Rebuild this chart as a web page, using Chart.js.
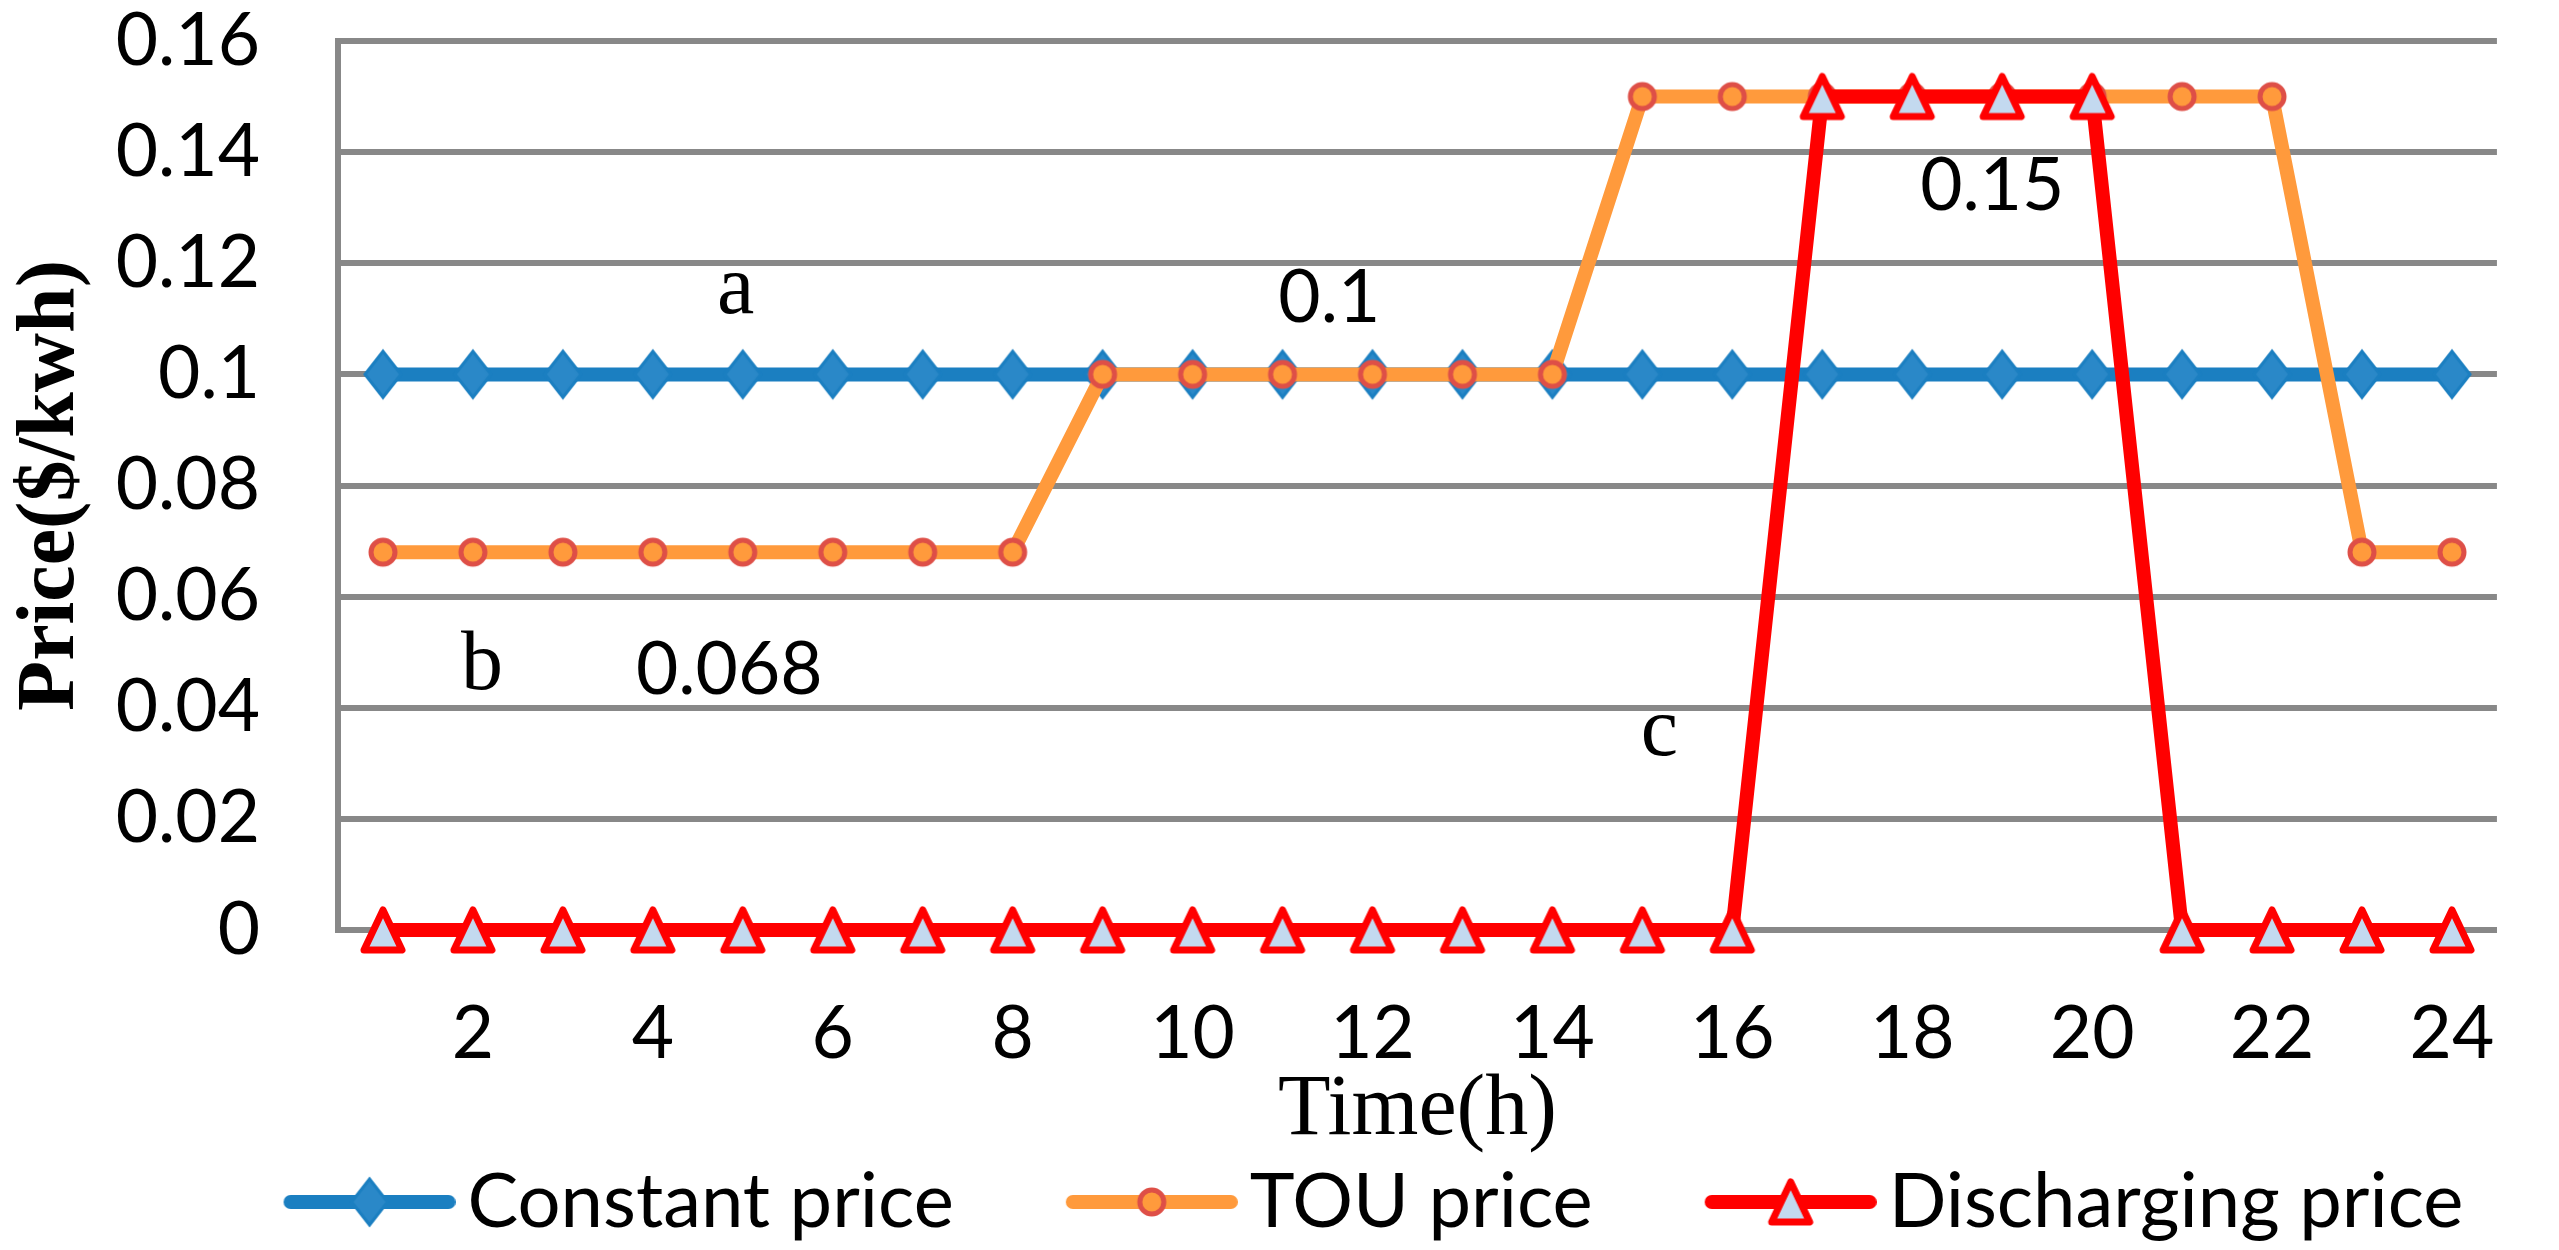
<!DOCTYPE html>
<html>
<head>
<meta charset="utf-8">
<script src="https://cdn.jsdelivr.net/npm/chart.js@4/dist/chart.umd.min.js"></script>
<style>
  html, body { margin: 0; padding: 0; background: #fff; }
  #wrap { width: 2559px; height: 1250px; }
</style>
</head>
<body>
<div id="wrap"><canvas id="chart" width="2559" height="1250"></canvas></div>
<script>
// hours of the day and the three price curves ($/kWh)
const hours = [1, 2, 3, 4, 5, 6, 7, 8, 9, 10, 11, 12, 13, 14, 15, 16, 17, 18, 19, 20, 21, 22, 23, 24];
const constantPrice = [0.1, 0.1, 0.1, 0.1, 0.1, 0.1, 0.1, 0.1, 0.1, 0.1, 0.1, 0.1,
                       0.1, 0.1, 0.1, 0.1, 0.1, 0.1, 0.1, 0.1, 0.1, 0.1, 0.1, 0.1];
const touPrice = [0.068, 0.068, 0.068, 0.068, 0.068, 0.068, 0.068, 0.068, 0.1, 0.1, 0.1, 0.1,
                  0.1, 0.1, 0.15, 0.15, 0.15, 0.15, 0.15, 0.15, 0.15, 0.15, 0.068, 0.068];
const dischargingPrice = [0, 0, 0, 0, 0, 0, 0, 0, 0, 0, 0, 0,
                          0, 0, 0, 0, 0.15, 0.15, 0.15, 0.15, 0, 0, 0, 0];
const seriesNames = ['Constant price', 'TOU price', 'Discharging price'];
const xTickLabels = [2, 4, 6, 8, 10, 12, 14, 16, 18, 20, 22, 24];

// text notes written inside the plot (hour, price)
const noteText = ['a', '0.1', '0.15', 'b', '0.068', 'c'];
const noteHour = [4.92, 11.52, 18.89, 2.1, 4.85, 15.19];
const notePrice = [0.111, 0.1094, 0.1296, 0.0434, 0.0425, 0.0315];

const BLUE = '#1B7FC1';
const ORANGE = '#FF9A3C';
const RED = '#FF0000';
const LEGEND_FONT = 76;

function makeCanvas(w, h) {
  const c = document.createElement('canvas');
  c.width = w;
  c.height = h;
  return c;
}

// marker shapes
function drawDiamond(ctx, cx, cy) {
  ctx.beginPath();
  ctx.moveTo(cx, cy - 23);
  ctx.lineTo(cx + 18, cy);
  ctx.lineTo(cx, cy + 23);
  ctx.lineTo(cx - 18, cy);
  ctx.closePath();
  ctx.fillStyle = '#2A88C8';
  ctx.fill();
  ctx.lineWidth = 3;
  ctx.strokeStyle = BLUE;
  ctx.stroke();
}

function drawCircle(ctx, cx, cy) {
  ctx.beginPath();
  ctx.arc(cx, cy, 12, 0, Math.PI * 2);
  ctx.fillStyle = ORANGE;
  ctx.fill();
  ctx.lineWidth = 5;
  ctx.strokeStyle = '#DE4F47';
  ctx.stroke();
}

function drawTriangle(ctx, cx, cy) {
  ctx.beginPath();
  ctx.moveTo(cx, cy - 20);
  ctx.lineTo(cx + 19, cy + 20);
  ctx.lineTo(cx - 19, cy + 20);
  ctx.closePath();
  ctx.fillStyle = '#C3D9EF';
  ctx.fill();
  ctx.lineWidth = 7;
  ctx.lineJoin = 'round';
  ctx.strokeStyle = RED;
  ctx.stroke();
}

const markerFns = [drawDiamond, drawCircle, drawTriangle];
const lineColors = [BLUE, ORANGE, RED];

function markerIcon(i) {
  const c = makeCanvas(56, 56);
  markerFns[i](c.getContext('2d'), 28, 28);
  return c;
}

// legend swatch: line with the marker in the middle, right-aligned in the image
function legendIcon(i) {
  const w = 300, h = 56;
  const c = makeCanvas(w, h);
  const ctx = c.getContext('2d');
  ctx.strokeStyle = lineColors[i];
  ctx.lineWidth = 14;
  ctx.lineCap = 'round';
  ctx.beginPath();
  ctx.moveTo(w - 172 + 7, h / 2);
  ctx.lineTo(w - 7, h / 2);
  ctx.stroke();
  markerFns[i](ctx, w - 86, h / 2);
  return c;
}

const markers = [0, 1, 2].map(markerIcon);
const legendIcons = [0, 1, 2].map(legendIcon);

const notesPlugin = {
  id: 'notes',
  afterDatasetsDraw(chart) {
    const { ctx, scales: { x, y } } = chart;
    ctx.save();
    ctx.fillStyle = '#000';
    ctx.textAlign = 'center';
    ctx.textBaseline = 'alphabetic';
    noteText.forEach((t, i) => {
      ctx.font = /^[a-z]$/.test(t) ? '84px "Liberation Serif"' : '73px Lato';
      ctx.fillText(t, x.getPixelForValue(noteHour[i] - 1), y.getPixelForValue(notePrice[i]));
    });
    ctx.restore();
  }
};

// legend is centred on the canvas; the original sits a little to the right
const legendShift = {
  id: 'legendShift',
  afterLayout(chart) {
    chart.legend.left += 48;
    chart.legend.right += 48;
  }
};

function draw() {
  const seriesData = [constantPrice, touPrice, dischargingPrice];
  const datasets = seriesData.map((d, i) => ({
    label: seriesNames[i],
    data: d,
    borderColor: lineColors[i],
    backgroundColor: lineColors[i],
    borderWidth: 14,
    borderJoinStyle: 'round',
    tension: 0,
    pointStyle: markers[i],
    pointRadius: 20,
    clip: false,
    order: 3 - i
  }));

  new Chart(document.getElementById('chart'), {
    type: 'line',
    data: { labels: hours, datasets },
    options: {
      responsive: false,
      devicePixelRatio: 1,
      animation: false,
      events: [],
      layout: { padding: { top: 0, right: 10, bottom: 0, left: 0 } },
      scales: {
        x: {
          offset: true,
          grid: { display: false, drawTicks: false },
          border: { display: true, color: '#888888', width: 6 },
          ticks: {
            autoSkip: false,
            maxRotation: 0,
            padding: 64,
            color: '#000',
            font: { family: 'Lato', size: 73, lineHeight: 1.1 },
            callback(v) {
              const l = this.getLabelForValue(v);
              return xTickLabels.includes(Number(l)) ? String(l) : '';
            }
          },
          title: {
            display: true,
            text: 'Time(h)',
            color: '#000',
            font: { family: 'Liberation Serif', size: 86, lineHeight: 1 },
            padding: { top: 0, bottom: 0 }
          },
          afterFit(s) { s.height = 224; }
        },
        y: {
          min: 0,
          max: 0.16,
          ticks: {
            stepSize: 0.02,
            padding: 78,
            color: '#000',
            font: { family: 'Lato', size: 73, lineHeight: 1.1 },
            callback: v => String(+v.toFixed(2))
          },
          grid: { color: '#888888', lineWidth: 6, drawTicks: false },
          border: { display: true, color: '#888888', width: 6 },
          title: {
            display: true,
            text: 'Price($/kwh)',
            color: '#000',
            font: { family: 'Liberation Serif', size: 82, weight: 'bold', lineHeight: 1 },
            padding: { top: 11, bottom: 0 }
          },
          afterFit(s) {
            s.width = 338;
            s.paddingTop = 41;
            s.paddingBottom = 0;
          }
        }
      },
      plugins: {
        tooltip: { enabled: false },
        legend: {
          position: 'bottom',
          labels: {
            usePointStyle: true,
            pointStyleWidth: 248,
            padding: 10,
            color: '#000',
            font: { family: 'Lato', size: LEGEND_FONT },
            sort: (a, b) => a.datasetIndex - b.datasetIndex,
            generateLabels(chart) {
              const items = Chart.defaults.plugins.legend.labels.generateLabels(chart);
              items.forEach(it => { it.pointStyle = legendIcons[it.datasetIndex]; });
              return items;
            }
          }
        }
      }
    },
    plugins: [notesPlugin, legendShift]
  });
}

Promise.all([
  document.fonts.load('73px Lato'),
  document.fonts.load('86px "Liberation Serif"'),
  document.fonts.load('bold 82px "Liberation Serif"')
]).then(draw, draw);
</script>
</body>
</html>
